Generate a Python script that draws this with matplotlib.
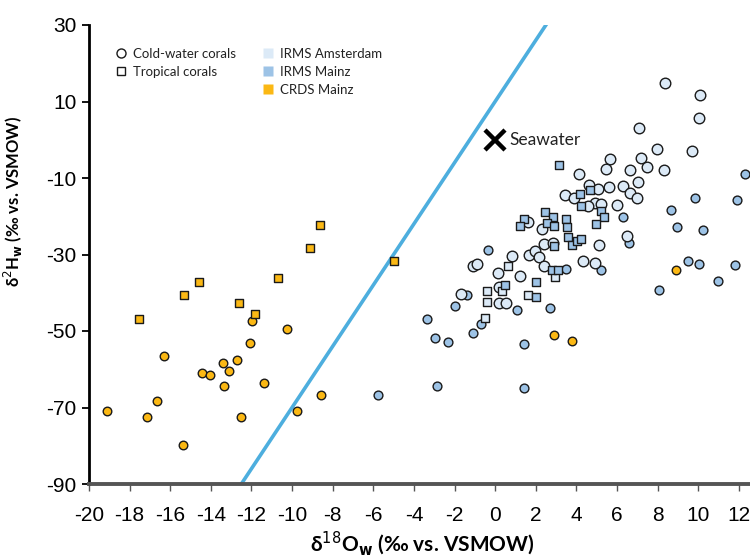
import matplotlib
matplotlib.use("Agg")
import matplotlib.pyplot as plt
from matplotlib.lines import Line2D

# ---------------- data ----------------
# Cold-water corals, IRMS Amsterdam (light blue circles)
cold_ams_x = [8.36, 10.08, 10.02, 7.10, 7.98, 9.69, 5.65, 5.46, 7.19, 7.49, 6.65, 8.30,
              4.14, 7.05, 4.63, 5.08, 5.59, 6.28, 6.65, 7.00, 3.44, 3.86, 4.91, 5.21,
              4.58, 6.01, 6.47, 5.13, 2.29, 2.40, 2.86, 1.61, 0.84, 1.68, 1.97, 2.17,
              4.32, 4.90, 2.40, 0.14, 1.22, -1.11, -0.91, 0.20, -1.70, 0.20, 0.53]
cold_ams_y = [14.8, 11.8, 5.7, 3.0, -2.3, -2.9, -5.0, -7.7, -4.9, -7.0, -8.0, -8.0,
              -9.0, -11.0, -11.7, -12.8, -12.4, -12.1, -14.0, -15.2, -14.5, -15.3, -16.5, -16.7,
              -17.3, -17.1, -25.2, -27.6, -23.4, -27.2, -27.0, -21.4, -30.4, -30.2, -29.2, -30.7,
              -31.6, -32.2, -32.9, -34.9, -35.7, -32.9, -32.6, -38.6, -40.3, -42.6, -42.6]

# Cold-water corals, IRMS Mainz (medium blue circles)
cold_mainz_x = [12.31, 9.84, 11.92, 6.31, 6.57, 8.66, 8.95, 10.22, -0.34, 3.47, 5.22,
                -1.40, -1.96, 1.06, 2.71, -3.36, -0.70, -1.08, -2.98, -2.34, 1.43, -2.85,
                1.43, 8.08, 9.48, 10.05, 10.98, 11.82, -5.77]
cold_mainz_y = [-8.9, -15.2, -15.8, -20.2, -27.0, -18.3, -22.9, -23.7, -28.8, -33.7, -34.1,
                -40.6, -43.5, -44.5, -43.9, -46.8, -48.2, -50.6, -51.9, -53.0, -53.3, -64.4,
                -64.8, -39.4, -31.7, -32.4, -36.8, -32.7, -66.7]

# Cold-water corals, CRDS Mainz (orange circles)
cold_crds_x = [-19.10, -17.14, -16.64, -16.31, -14.42, -14.04, -13.40, -13.35, -13.09,
               -12.71, -12.53, -12.07, -11.96, -11.38, -10.25, -9.76, -8.59, -15.37,
               2.90, 3.78, 8.90]
cold_crds_y = [-70.8, -72.4, -68.4, -56.6, -61.0, -61.6, -58.3, -64.3, -60.4,
               -57.7, -72.4, -53.2, -47.5, -63.7, -49.6, -71.0, -66.7, -79.8,
               -51.0, -52.6, -34.1]

# Tropical corals, IRMS Amsterdam (light blue squares)
trop_ams_x = [0.62, 0.32, -0.40, -0.39, -0.50, 1.63, 2.96]
trop_ams_y = [-32.9, -39.6, -39.6, -42.5, -46.6, -40.5, -35.9]

# Tropical corals, IRMS Mainz (medium blue squares)
trop_mainz_x = [3.16, 4.17, 4.67, 4.24, 5.22, 5.36, 4.98, 2.47, 2.83, 2.55, 2.90, 1.43,
                1.22, 3.47, 3.54, 3.60, 3.80, 4.01, 4.22, 2.90, 0.48, 2.01, 2.01, 2.78, 3.09]
trop_mainz_y = [-6.5, -14.3, -13.2, -17.3, -18.5, -20.2, -22.0, -19.0, -20.2, -21.7, -22.6,
                -20.7, -22.6, -20.6, -22.9, -25.5, -27.4, -26.5, -26.0, -27.8, -37.9, -37.1,
                -41.2, -34.0, -34.0]

# Tropical corals, CRDS Mainz (orange squares)
trop_crds_x = [-17.52, -15.31, -14.60, -12.60, -11.83, -10.69, -9.12, -8.61, -4.98]
trop_crds_y = [-46.8, -40.5, -37.1, -42.8, -45.5, -36.1, -28.3, -22.3, -31.8]

# Seawater reference and Global Meteoric Water Line
seawater_x = [0.0]
seawater_y = [0.0]
gmwl_slope = 8.0
gmwl_intercept = 10.0

x_ticks = list(range(-20, 13, 2))
y_ticks = list(range(-90, 31, 20))

# ---------------- style ----------------
C_AMS = "#dceaf7"
C_MAINZ = "#9dc3e6"
C_CRDS = "#fbb814"
C_LINE = "#4daede"
EDGE = "#1a1a1a"

plt.rcParams["font.family"] = ["Liberation Sans", "DejaVu Sans"]
LABEL_FONT = ["Lato", "DejaVu Sans"]

fig = plt.figure(figsize=(7.5, 5.6), dpi=100)
ax = fig.add_axes([89 / 750, 1 - 484 / 560, 661 / 750, 459 / 560])

ax.axline((0, gmwl_intercept), slope=gmwl_slope, color=C_LINE, lw=2.6, zorder=1)

ax.scatter(cold_mainz_x, cold_mainz_y, s=40, marker="o", c=C_MAINZ, edgecolors=EDGE, linewidths=1, zorder=3)
ax.scatter(cold_ams_x, cold_ams_y, s=58, marker="o", c=C_AMS, edgecolors=EDGE, linewidths=1, zorder=3)
ax.scatter(cold_crds_x, cold_crds_y, s=38, marker="o", c=C_CRDS, edgecolors=EDGE, linewidths=1, zorder=3)
ax.scatter(trop_ams_x, trop_ams_y, s=38, marker="s", c=C_AMS, edgecolors=EDGE, linewidths=1, zorder=4)
ax.scatter(trop_mainz_x, trop_mainz_y, s=38, marker="s", c=C_MAINZ, edgecolors=EDGE, linewidths=1, zorder=4)
ax.scatter(trop_crds_x, trop_crds_y, s=38, marker="s", c=C_CRDS, edgecolors=EDGE, linewidths=1, zorder=4)

ax.plot(seawater_x, seawater_y, marker="x", markersize=15, markeredgewidth=3.2,
        color="black", linestyle="none", zorder=5)
ax.annotate("Seawater", (seawater_x[0], seawater_y[0]), xytext=(10, 0),
            textcoords="offset points", va="center", ha="left", fontsize=12.5,
            family=LABEL_FONT, color="#222222")

ax.set_xlim(-20, 12.55)
ax.set_ylim(-90, 30)
ax.set_xticks(x_ticks)
ax.set_yticks(y_ticks)
ax.set_xticklabels([str(v) for v in x_ticks])
ax.set_yticklabels([str(v) for v in y_ticks])

for s in ("top", "right"):
    ax.spines[s].set_visible(False)
ax.spines["left"].set_color("black")
ax.spines["left"].set_linewidth(2)
ax.spines["bottom"].set_color("#555555")
ax.spines["bottom"].set_linewidth(2.8)
ax.spines["left"].set_zorder(6)
ax.spines["bottom"].set_zorder(6)
ax.tick_params(axis="x", direction="out", length=5, width=1, color="#555555",
               labelsize=15, pad=11)
ax.tick_params(axis="y", direction="out", length=5, width=1.3, color="black",
               labelsize=15, pad=4)

ax.set_xlabel("δ$^{\\mathrm{18}}$O$_{\\mathbf{w}}$ (‰ vs. VSMOW)", fontsize=15,
              fontweight="bold", family=LABEL_FONT)
ax.xaxis.set_label_coords(0.504, -0.1)
ax.set_ylabel("δ$^{\\mathrm{2}}$H$_{\\mathbf{w}}$ (‰ vs. VSMOW)", fontsize=12,
              fontweight="bold", family=LABEL_FONT)
ax.yaxis.set_label_coords(-0.097, 0.615)

handles = [
    Line2D([], [], marker="o", ls="none", markersize=6.5, markerfacecolor="white",
           markeredgecolor=EDGE, markeredgewidth=1, label="Cold-water corals"),
    Line2D([], [], marker="s", ls="none", markersize=6, markerfacecolor="white",
           markeredgecolor=EDGE, markeredgewidth=1, label="Tropical corals"),
    Line2D([], [], ls="none", label=" "),
    Line2D([], [], marker="s", ls="none", markersize=6.5, markerfacecolor=C_AMS,
           markeredgecolor="none", label="IRMS Amsterdam"),
    Line2D([], [], marker="s", ls="none", markersize=6.5, markerfacecolor=C_MAINZ,
           markeredgecolor="none", label="IRMS Mainz"),
    Line2D([], [], marker="s", ls="none", markersize=6.5, markerfacecolor=C_CRDS,
           markeredgecolor="none", label="CRDS Mainz"),
]
leg = ax.legend(handles=handles, ncol=2, loc="upper left", bbox_to_anchor=(0.033, 0.962),
                frameon=False, prop={"family": LABEL_FONT, "size": 9.5},
                handlelength=0.8, handletextpad=0.5, columnspacing=2.0,
                labelspacing=0.45, borderaxespad=0)
for t in leg.get_texts():
    t.set_color("#222222")

fig.savefig("out.png", dpi=100)
